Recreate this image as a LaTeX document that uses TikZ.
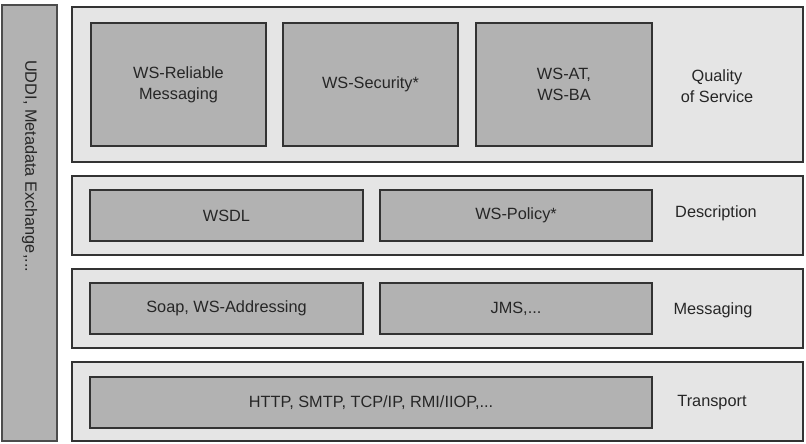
\documentclass[tikz,border=0pt]{standalone}
\usepackage{fontspec}
\setmainfont{Liberation Sans}
\begin{document}
\begin{tikzpicture}[x=1pt,y=-1pt,
  every node/.style={font=\fontsize{16.3}{21}\selectfont, text=black!85},
  layer/.style={draw=black!80, line width=1.5pt, fill=black!10, inner sep=0pt},
  inbox/.style={draw=black!80, line width=1.2pt, fill=black!30, inner sep=0pt, align=center},
  sidebox/.style={draw=black!70, line width=1.2pt, fill=black!30, inner sep=0pt},
  lbl/.style={align=center, inner sep=0pt}]
\useasboundingbox (0,0) rectangle (806,444);
% side box
\node[sidebox, minimum width=55pt, minimum height=436pt] (side) at (29.5,223) {};
\node[rotate=-90, anchor=west, inner sep=0pt] (sidetext) at (29.5,60) {UDDI, Metadata Exchange,...};
% layers
\node[layer, minimum width=731pt, minimum height=155pt] (qos) at (437.5,84.5) {};
\node[layer, minimum width=731pt, minimum height=79pt] (desc) at (437.5,215.5) {};
\node[layer, minimum width=731pt, minimum height=79pt] (msg) at (437.5,308.5) {};
\node[layer, minimum width=731pt, minimum height=79pt] (trans) at (437.5,401.5) {};
% QoS boxes
\node[inbox, minimum width=175pt, minimum height=123pt] (wsrm) at (178.5,84.5) {WS-Reliable\\Messaging};
\node[inbox, minimum width=175pt, minimum height=123pt] (wssec) at (370.5,84.5) {WS-Security*};
\node[inbox, minimum width=176pt, minimum height=123pt] (wsat) at (564,84.5) {WS-AT,\\WS-BA};
\node[lbl] (qosl) at (717,86) {Quality\\of Service};
% Description
\node[inbox, minimum width=273pt, minimum height=51pt] (wsdl) at (226.5,215.5) {WSDL};
\node[inbox, minimum width=272pt, minimum height=51pt] (wspol) at (516,215.5) {WS-Policy*};
\node[lbl] (descl) at (716,213) {Description};
% Messaging
\node[inbox, minimum width=273pt, minimum height=51pt] (soap) at (226.5,308.5) {Soap, WS-Addressing};
\node[inbox, minimum width=272pt, minimum height=51pt] (jms) at (516,308.5) {JMS,...};
\node[lbl] (msgl) at (713,310) {Messaging};
% Transport
\node[inbox, minimum width=562pt, minimum height=51pt] (http) at (371,402.5) {HTTP, SMTP, TCP/IP, RMI/IIOP,...};
\node[lbl] (transl) at (712,403) {Transport};
\end{tikzpicture}
\end{document}
